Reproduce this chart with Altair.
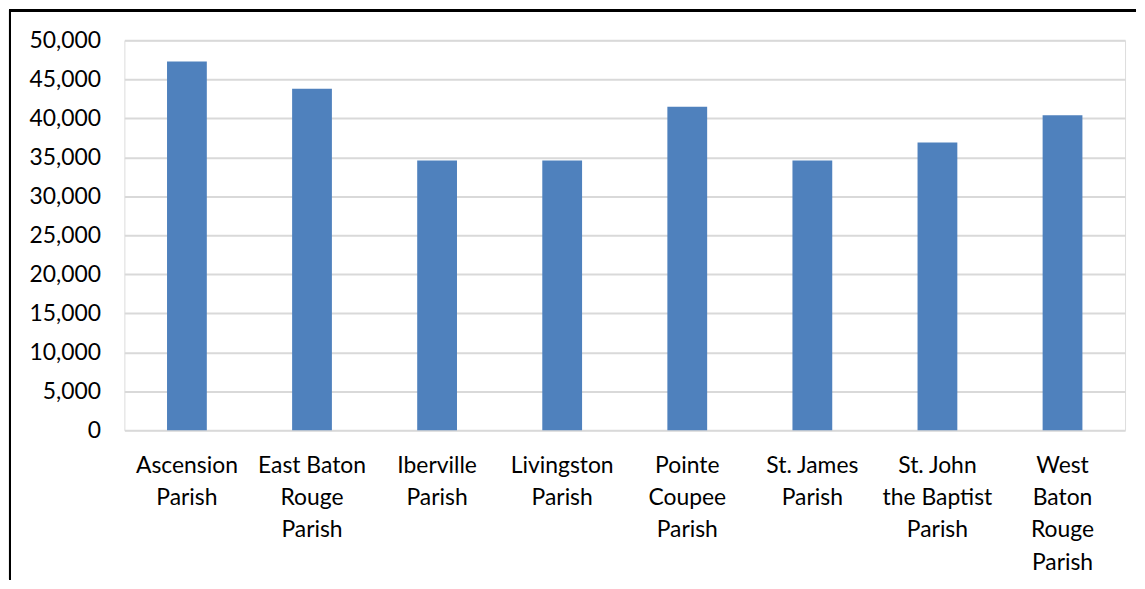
import altair as alt
import pandas as pd

categories = [
    "Ascension|Parish",
    "East Baton|Rouge|Parish",
    "Iberville|Parish",
    "Livingston|Parish",
    "Pointe|Coupee|Parish",
    "St. James|Parish",
    "St. John|the Baptist|Parish",
    "West|Baton|Rouge|Parish",
]
values = [47300, 43800, 34600, 34600, 41500, 34600, 36900, 40400]

df = pd.DataFrame({"parish": categories, "value": values})

W, H = 1006, 392
FONT = "Lato"

bars = alt.Chart(df).mark_bar(size=40, color="#4F81BD").encode(
    x=alt.X(
        "parish:N",
        sort=categories,
        title=None,
        scale=alt.Scale(paddingInner=0, paddingOuter=0),
        axis=alt.Axis(
            labelAngle=0,
            labelExpr="split(datum.label, '|')",
            labelFont=FONT,
            labelFontSize=23,
            labelColor="#000000",
            labelLineHeight=32.5,
            labelBaseline="top",
            labelPadding=24,
            ticks=False,
            domain=False,
            grid=False,
            labelLimit=200,
        ),
    ),
    y=alt.Y(
        "value:Q",
        title=None,
        scale=alt.Scale(domain=[0, 50000], nice=False),
        axis=alt.Axis(
            values=list(range(0, 50001, 5000)),
            format=",.0f",
            labelFont=FONT,
            labelFontSize=23,
            labelColor="#000000",
            labelPadding=24,
            ticks=False,
            domain=False,
            gridColor="#D9D9D9",
            gridWidth=2,
        ),
    ),
)

frame_left = alt.Chart(df).mark_rule(color="#000000", strokeWidth=2).encode(
    x=alt.value(-115), y=alt.value(-30), y2=alt.value(542)
)
frame_top = alt.Chart(df).mark_rule(color="#000000", strokeWidth=2).encode(
    y=alt.value(-30), x=alt.value(-116), x2=alt.value(1017)
)

chart = (
    alt.layer(bars, frame_left, frame_top)
    .properties(width=W, height=H, padding=0)
    .configure_view(stroke=None)
    .configure(background="white")
)

chart.save("out.html", embed_options={"renderer": "svg", "actions": False})
